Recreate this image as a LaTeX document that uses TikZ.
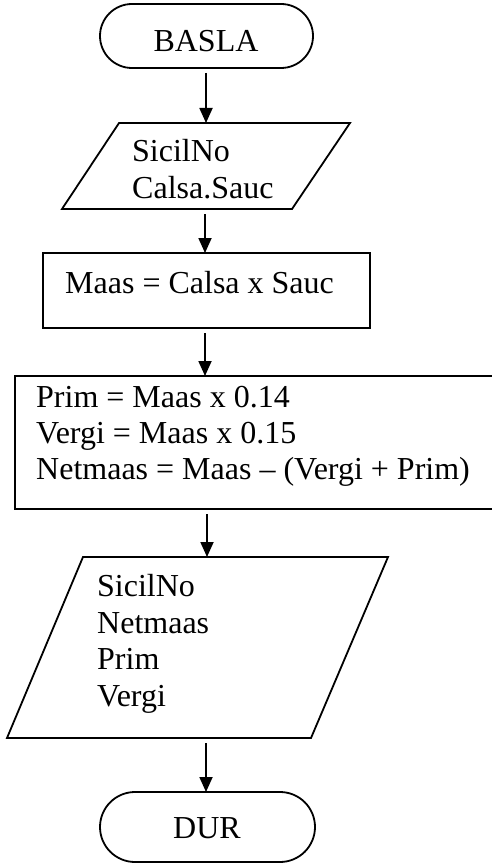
\documentclass[tikz,border=0pt]{standalone}
\usepackage{fontspec}
\setmainfont{Liberation Serif}
\usetikzlibrary{arrows.meta}
\begin{document}
\begin{tikzpicture}[x=1pt,y=-1pt,
  shapeline/.style={draw=black,line width=1.8pt,line join=miter},
  flow/.style={draw=black,line width=1.8pt,-{Triangle[length=15pt,width=13pt]}},
  txt/.style={inner sep=0pt,anchor=base west,font=\fontsize{32}{36.5}\selectfont},
  ctxt/.style={txt,anchor=base}]
\useasboundingbox (0,0) rectangle (491,864);

% start terminal
\draw[shapeline,rounded corners=32pt] (100,4) rectangle (313,68);
\node[ctxt] (basla) at (206,52) {BASLA};
\coordinate (baslaS) at (206,73);

% input
\draw[shapeline] (119,123) -- (350,123) -- (292,209) -- (62,209) -- cycle;
\coordinate (in1N) at (206,123);
\coordinate (in1S) at (205,214);
\node[txt] (in1a) at (132,161) {SicilNo};
\node[txt] (in1b) at (132,198) {Calsa.Sauc};

% first process
\draw[shapeline] (43,253) rectangle (370,328);
\coordinate (p1N) at (205,253);
\coordinate (p1S) at (205,333);
\node[txt] (p1) at (65,293) {Maas = Calsa x Sauc};

% second process (runs off the right edge)
\draw[shapeline] (500,376) -- (15,376) -- (15,509) -- (500,509);
\coordinate (p2N) at (205,376);
\coordinate (p2S) at (207,514);
\node[txt] (p2a) at (36,407) {Prim = Maas x 0.14};
\node[txt] (p2b) at (36,443) {Vergi = Maas x 0.15};
\node[txt] (p2c) at (36,479) {Netmaas = Maas – (Vergi + Prim)};

% output
\draw[shapeline] (83,557) -- (388,557) -- (311,738) -- (7,738) -- cycle;
\coordinate (outN) at (207,557);
\coordinate (outS) at (206,743);
\node[txt] (outa) at (97,596) {SicilNo};
\node[txt] (outb) at (97,633) {Netmaas};
\node[txt] (outc) at (97,669) {Prim};
\node[txt] (outd) at (97,706) {Vergi};

% end terminal
\draw[shapeline,rounded corners=35pt] (100,792) rectangle (315,862);
\coordinate (durN) at (206,792);
\node[ctxt] (dur) at (207,838) {DUR};

% connectors
\draw[flow] (baslaS) -- (in1N);
\draw[flow] (in1S) -- (p1N);
\draw[flow] (p1S) -- (p2N);
\draw[flow] (p2S) -- (outN);
\draw[flow] (outS) -- (durN);
\end{tikzpicture}
\end{document}
